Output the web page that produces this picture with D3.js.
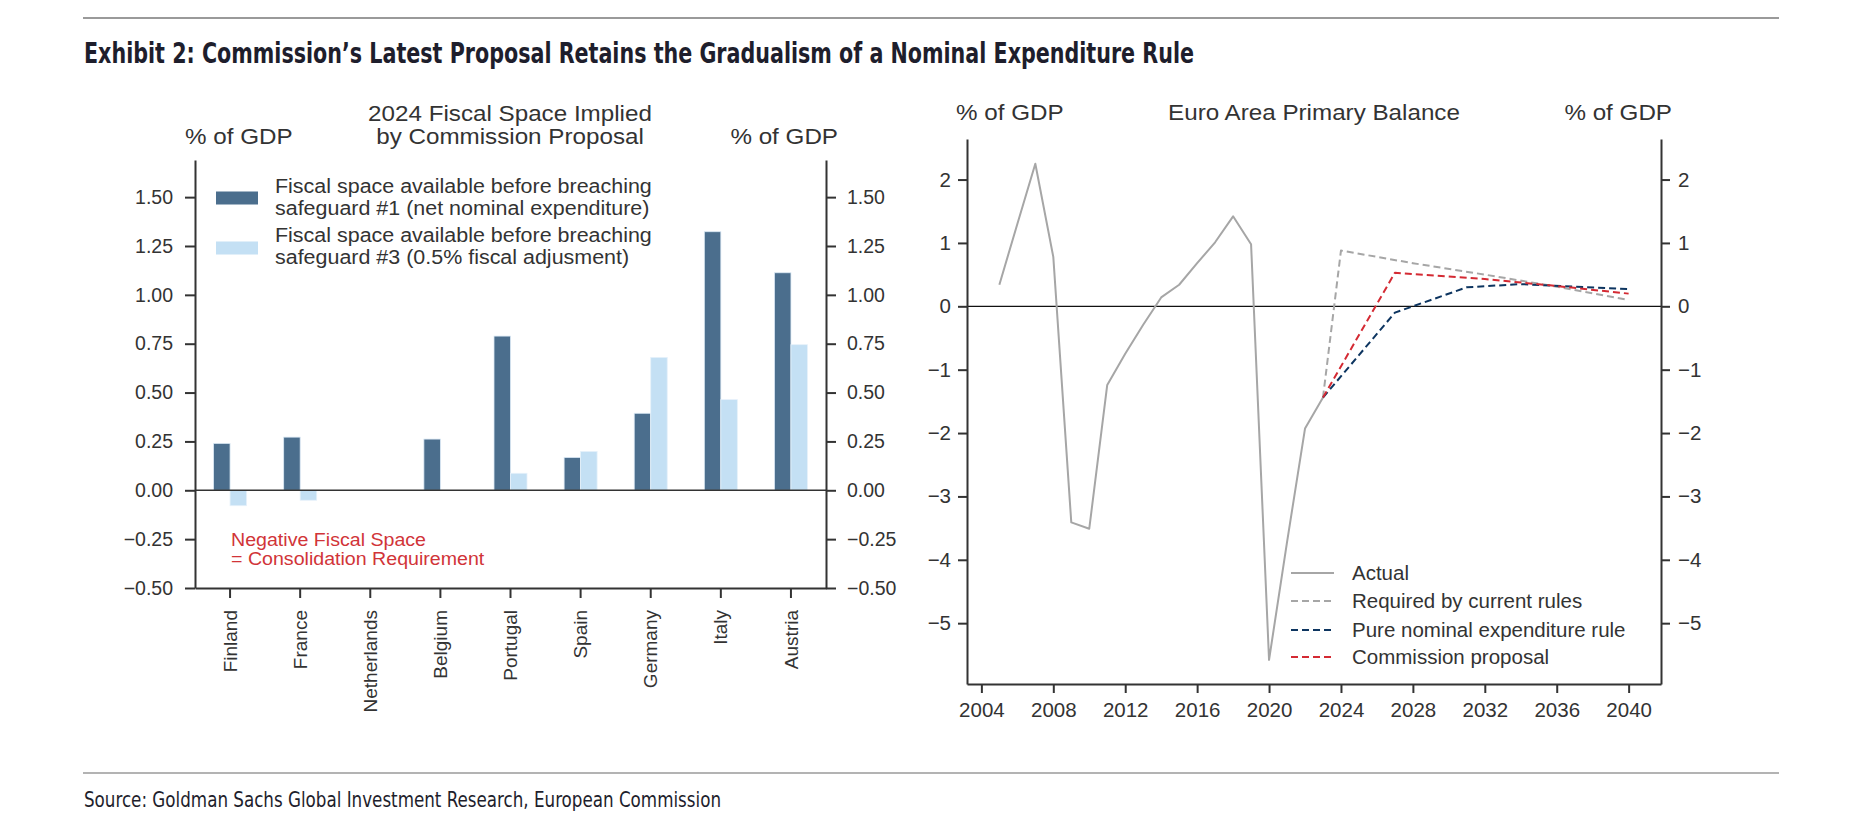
<!DOCTYPE html>
<html><head><meta charset="utf-8">
<script src="https://cdn.jsdelivr.net/npm/d3@7"></script>
<style>body{margin:0;background:#fff}svg{display:block}</style>
</head><body>
<svg id="c" width="1850" height="827"></svg>
<script>
// ---------------- DATA ----------------
const countries = ["Finland","France","Netherlands","Belgium","Portugal","Spain","Germany","Italy","Austria"];
const safeguard1 = [0.240, 0.272, null, 0.262, 0.789, 0.168, 0.394, 1.323, 1.113];
const safeguard3 = [-0.079, -0.051, null, null, 0.087, 0.199, 0.680, 0.464, 0.745];
const barTicks = [-0.5, -0.25, 0, 0.25, 0.5, 0.75, 1, 1.25, 1.5];

const actualYears  = [2005,2006,2007,2008,2009,2010,2011,2012,2013,2014,2015,2016,2017,2018,2019,2020,2021,2022,2023];
const actualValues = [0.34,1.30,2.25,0.78,-3.41,-3.51,-1.24,-0.75,-0.29,0.14,0.34,0.68,1.01,1.42,0.98,-5.58,-3.72,-1.93,-1.44];
const requiredYears  = [2023,2024,2028,2032,2036,2040];
const requiredValues = [-1.44,0.88,0.68,0.50,0.31,0.10];
const pureYears  = [2023,2027,2029,2031,2034,2040];
const pureValues = [-1.44,-0.10,0.10,0.30,0.35,0.27];
const commissionYears  = [2023,2027,2032,2036,2040];
const commissionValues = [-1.44,0.53,0.43,0.32,0.20];
const yearTicks = [2004,2008,2012,2016,2020,2024,2028,2032,2036,2040];
const balanceTicks = [-5,-4,-3,-2,-1,0,1,2];

const legendBars = ["Fiscal space available before breaching|safeguard #1 (net nominal expenditure)",
                    "Fiscal space available before breaching|safeguard #3 (0.5% fiscal adjusment)"];
const legendLines = ["Actual","Required by current rules","Pure nominal expenditure rule","Commission proposal"];

// ---------------- STYLE ----------------
const FONT = "'Liberation Sans', Arial, Helvetica, sans-serif";
const NARROW = "'Liberation Sans Narrow', 'DejaVu Sans Condensed', 'Roboto Condensed', sans-serif";
const TXT = "#333333";
const AX = "#333333";
const DARK = "#4b6e8d", LIGHT = "#c4e0f4";
const GRAY = "#a6a6a6", NAVY = "#0d3560", RED = "#d42a33";

const svg = d3.select("#c");

// horizontal stretch of text (the reference text is slightly wide)
function stretch(sel, k){
  sel.each(function(){
    const w = this.getComputedTextLength();
    d3.select(this).attr("textLength", w*k).attr("lengthAdjust","spacingAndGlyphs");
  });
  return sel;
}

// rules, title, source
svg.append("line").attr("x1",83).attr("x2",1779).attr("y1",18).attr("y2",18)
  .attr("stroke","#9a9a9a").attr("stroke-width",2);
svg.append("line").attr("x1",83).attr("x2",1779).attr("y1",773).attr("y2",773)
  .attr("stroke","#9a9a9a").attr("stroke-width",1.5);
svg.append("text").attr("x",84).attr("y",63)
  .attr("font-family",NARROW).attr("font-weight","bold").attr("font-size",29)
  .attr("fill","#1e1e2c").attr("textLength",1110).attr("lengthAdjust","spacingAndGlyphs")
  .text("Exhibit 2: Commission\u2019s Latest Proposal Retains the Gradualism of a Nominal Expenditure Rule");
svg.append("text").attr("x",84).attr("y",807)
  .attr("font-family",NARROW).attr("font-size",21)
  .attr("fill","#1e1e2c").attr("textLength",637).attr("lengthAdjust","spacingAndGlyphs")
  .text("Source: Goldman Sachs Global Investment Research, European Commission");

function styleAxis(g, fs){
  g.selectAll(".domain").attr("stroke",AX).attr("stroke-width",2);
  g.selectAll(".tick line").attr("stroke",AX).attr("stroke-width",2);
  g.selectAll("text").attr("fill",TXT).attr("font-family",FONT).attr("font-size",fs);
}

// ================= LEFT CHART =================
const xB = d3.scaleBand().domain(countries).range([195,826]).paddingInner(0).paddingOuter(0);
const yB = d3.scaleLinear().domain([-0.5,1.69]).range([588,160]);
const barW = 16.5;

const bars = svg.append("g");
countries.forEach((c,i)=>{
  const cx = xB(c) + xB.bandwidth()/2;
  const v1 = safeguard1[i], v3 = safeguard3[i];
  if (v1 !== null) bars.append("rect").attr("x",cx-barW).attr("width",barW)
      .attr("y",yB(Math.max(0,v1))).attr("height",Math.abs(yB(v1)-yB(0)))
      .attr("fill",DARK).attr("stroke","#dbe9f5").attr("stroke-width",0.8);
  if (v3 !== null) bars.append("rect").attr("x",cx).attr("width",barW)
      .attr("y",yB(Math.max(0,v3))).attr("height",Math.abs(yB(v3)-yB(0)))
      .attr("fill",LIGHT).attr("stroke","#e6f1fa").attr("stroke-width",0.8);
});
svg.append("line").attr("x1",195).attr("x2",826).attr("y1",yB(0)).attr("y2",yB(0))
  .attr("stroke",AX).attr("stroke-width",1.5);

const gLy = svg.append("g").attr("transform","translate(195,0)")
  .call(d3.axisLeft(yB).tickValues(barTicks).tickFormat(d3.format(".2f")).tickSize(10).tickSizeOuter(0).tickPadding(12));
styleAxis(gLy,19.5);
const gRy = svg.append("g").attr("transform","translate(826,0)")
  .call(d3.axisRight(yB).tickValues(barTicks).tickFormat(d3.format(".2f")).tickSize(10).tickSizeOuter(0).tickPadding(11));
styleAxis(gRy,19.5);
const gBx = svg.append("g").attr("transform","translate(0,588)")
  .call(d3.axisBottom(xB).tickSize(10).tickSizeOuter(0));
styleAxis(gBx,19);
gBx.selectAll(".tick text").attr("transform","rotate(-90)").attr("x",-22).attr("y",0)
  .attr("dy","0.35em").style("text-anchor","end");

// headers
const hdr = (x,y,t,anchor)=>stretch(svg.append("text").attr("x",x).attr("y",y).attr("text-anchor",anchor)
  .attr("font-family",FONT).attr("font-size",22).attr("fill",TXT).text(t), 1.1);
hdr(185,144,"% of GDP","start");
hdr(510,121,"2024 Fiscal Space Implied","middle");
hdr(510,144,"by Commission Proposal","middle");
hdr(838,144,"% of GDP","end");

// left legend
[[DARK,198],[LIGHT,248]].forEach((d,i)=>{
  svg.append("rect").attr("x",216).attr("y",d[1]-6.5).attr("width",42).attr("height",13).attr("fill",d[0]);
  const lines = legendBars[i].split("|");
  lines.forEach((l,j)=>stretch(svg.append("text").attr("x",275).attr("y",(i===0?193:242)+j*21.5)
    .attr("font-family",FONT).attr("font-size",19.5).attr("fill",TXT).text(l), 1.1));
});

// annotation
stretch(svg.append("text").attr("x",231).attr("y",546).attr("font-family",FONT).attr("font-size",17.5)
  .attr("fill","#d13438").text("Negative Fiscal Space"), 1.12);
stretch(svg.append("text").attr("x",231).attr("y",564.5).attr("font-family",FONT).attr("font-size",17.5)
  .attr("fill","#d13438").text("= Consolidation Requirement"), 1.12);

// ================= RIGHT CHART =================
const xL = d3.scaleLinear().domain([2003.2,2041.8]).range([967,1661]);
const yL = d3.scaleLinear().domain([-5.96,2.64]).range([684,139]);

svg.append("line").attr("x1",967).attr("x2",1661).attr("y1",yL(0)).attr("y2",yL(0))
  .attr("stroke","#111").attr("stroke-width",1.3);

const line = d3.line().x(d=>xL(d[0])).y(d=>yL(d[1]));
const series = [
  {yrs:actualYears, vals:actualValues, color:GRAY, dash:null},
  {yrs:requiredYears, vals:requiredValues, color:GRAY, dash:"7,4"},
  {yrs:pureYears, vals:pureValues, color:NAVY, dash:"7,4"},
  {yrs:commissionYears, vals:commissionValues, color:RED, dash:"7,4"}
];
series.forEach(s=>{
  svg.append("path").datum(s.yrs.map((y,i)=>[y,s.vals[i]])).attr("d",line)
    .attr("fill","none").attr("stroke",s.color).attr("stroke-width",2)
    .attr("stroke-dasharray",s.dash).attr("stroke-linejoin","round");
});

const gRLy = svg.append("g").attr("transform","translate(967,0)")
  .call(d3.axisLeft(yL).tickValues(balanceTicks).tickFormat(d3.format("d")).tickSize(9).tickSizeOuter(0).tickPadding(7));
styleAxis(gRLy,20.5);
const gRRy = svg.append("g").attr("transform","translate(1661,0)")
  .call(d3.axisRight(yL).tickValues(balanceTicks).tickFormat(d3.format("d")).tickSize(9).tickSizeOuter(0).tickPadding(8));
styleAxis(gRRy,20.5);
const gRx = svg.append("g").attr("transform","translate(0,684)")
  .call(d3.axisBottom(xL).tickValues(yearTicks).tickFormat(d3.format("d")).tickSize(9).tickSizeOuter(0).tickPadding(9));
styleAxis(gRx,20.5);

hdr(956,120,"% of GDP","start");
hdr(1314,120,"Euro Area Primary Balance","middle");
hdr(1672,120,"% of GDP","end");

// right legend
const legY = [580,608,637,664];
series.forEach((s,i)=>{
  svg.append("line").attr("x1",1291).attr("x2",1334).attr("y1",legY[i]-7).attr("y2",legY[i]-7)
    .attr("stroke",s.color).attr("stroke-width",2).attr("stroke-dasharray",s.dash ? "7,4" : null);
  svg.append("text").attr("x",1352).attr("y",legY[i]).attr("font-family",FONT).attr("font-size",20.5)
    .attr("fill",TXT).text(legendLines[i]);
});
</script>
</body></html>
